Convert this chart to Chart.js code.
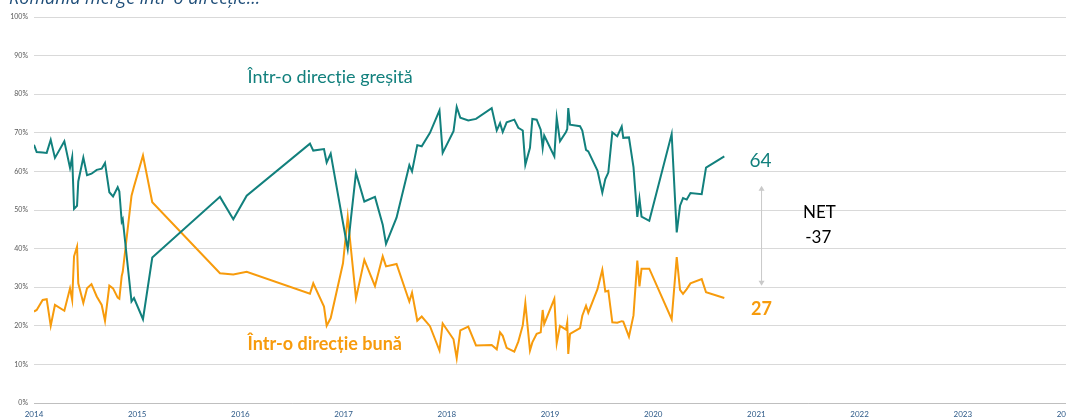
<!DOCTYPE html>
<html>
<head>
<meta charset="utf-8">
<script src="https://cdn.jsdelivr.net/npm/chart.js@4/dist/chart.umd.min.js"></script>
<style>
  html, body { margin: 0; padding: 0; background: #fff; overflow: hidden; }
  #wrap { width: 1100px; height: 419px; position: relative; }
</style>
</head>
<body>
<div id="wrap"><canvas id="myChart" width="1100" height="419"></canvas></div>
<script>
// survey dates as decimal years
const dates = [
  2014.000, 2014.026, 2014.084, 2014.123, 2014.162, 2014.203, 2014.294, 2014.349, 2014.370, 2014.388,
  2014.417, 2014.429, 2014.478, 2014.514, 2014.557, 2014.608, 2014.656, 2014.688, 2014.730, 2014.766,
  2014.811, 2014.827, 2014.850, 2014.860, 2014.945, 2014.969, 2015.056, 2015.146, 2015.802, 2015.931,
  2016.061, 2016.674, 2016.706, 2016.810, 2016.836, 2016.875, 2016.994, 2017.040, 2017.072, 2017.120,
  2017.201, 2017.304, 2017.379, 2017.411, 2017.513, 2017.637, 2017.663, 2017.714, 2017.757, 2017.837,
  2017.929, 2017.960, 2018.065, 2018.096, 2018.131, 2018.208, 2018.283, 2018.435, 2018.484, 2018.516,
  2018.542, 2018.580, 2018.654, 2018.693, 2018.736, 2018.761, 2018.806, 2018.829, 2018.871, 2018.910,
  2018.929, 2018.944, 2019.042, 2019.065, 2019.097, 2019.155, 2019.167, 2019.177, 2019.194, 2019.291,
  2019.313, 2019.349, 2019.371, 2019.460, 2019.507, 2019.536, 2019.565, 2019.604, 2019.652, 2019.695,
  2019.710, 2019.765, 2019.809, 2019.846, 2019.867, 2019.887, 2019.962, 2020.179, 2020.228, 2020.260,
  2020.289, 2020.325, 2020.361, 2020.470, 2020.512, 2020.689
];

// "Într-o direcție greșită" (%)
const gresita = [
  66.9, 65.0, 64.9, 64.8, 68.2, 63.5, 67.8, 60.9, 63.7, 50.3,
  51.1, 57.4, 63.6, 59.0, 59.4, 60.4, 60.7, 62.2, 54.6, 53.5,
  55.9, 54.8, 47.0, 47.6, 26.3, 27.2, 21.7, 37.7, 53.4, 47.6,
  53.7, 67.2, 65.4, 65.8, 62.3, 64.6, 46.7, 39.9, 48.0, 59.6,
  52.2, 53.4, 46.2, 41.2, 48.0, 61.6, 60.0, 66.8, 66.5, 70.0,
  75.8, 64.8, 70.4, 76.7, 73.9, 73.2, 73.6, 76.4, 70.6, 72.5,
  70.2, 72.7, 73.4, 71.3, 70.6, 61.7, 66.1, 73.6, 73.4, 70.8,
  66.1, 69.3, 63.9, 73.9, 67.8, 70.2, 71.0, 76.4, 72.1, 71.7,
  70.6, 65.6, 65.2, 60.2, 54.5, 58.0, 59.7, 70.1, 69.1, 71.6,
  68.7, 68.8, 61.1, 48.2, 52.9, 48.3, 47.2, 69.7, 44.2, 51.1,
  53.1, 52.7, 54.4, 54.1, 61.0, 63.9
];

// "Într-o direcție bună" (%)
const buna = [
  23.7, 24.1, 26.7, 26.9, 20.0, 25.4, 23.9, 29.7, 26.7, 38.0,
  40.5, 31.0, 25.9, 29.7, 30.8, 27.6, 25.4, 21.3, 30.4, 29.7,
  27.3, 27.0, 32.9, 34.0, 53.7, 56.1, 64.1, 52.0, 33.6, 33.3,
  34.0, 28.3, 31.0, 25.0, 20.0, 22.0, 36.2, 48.2, 39.7, 27.1,
  37.1, 30.3, 38.0, 35.4, 36.0, 26.3, 28.6, 21.3, 22.4, 19.9,
  13.6, 20.6, 16.5, 11.6, 18.8, 19.8, 14.9, 15.0, 13.9, 18.3,
  17.4, 14.3, 13.3, 15.9, 20.1, 25.9, 13.6, 15.7, 17.9, 18.3,
  24.1, 20.5, 27.0, 15.5, 20.0, 19.0, 20.8, 12.7, 17.9, 19.4,
  22.6, 25.2, 23.4, 29.5, 34.5, 28.9, 29.1, 20.9, 20.8, 21.2,
  21.1, 17.2, 22.7, 36.9, 30.2, 34.8, 34.8, 21.7, 37.8, 29.3,
  28.3, 29.5, 31.0, 32.1, 28.7, 27.2
];

const yearTicks = [2014, 2015, 2016, 2017, 2018, 2019, 2020, 2021, 2022, 2023, 2024];
const lastGresita = 64;
const lastBuna = 27;
const net = lastBuna - lastGresita;

const teal = '#12807D';
const orange = '#F79B0C';

function toPoints(vals) {
  return dates.map((d, i) => ({ x: d, y: vals[i] }));
}

const notes = {
  id: 'notes',
  afterDatasetsDraw(chart) {
    const c = chart.ctx;
    const xs = chart.scales.x, ys = chart.scales.y;
    c.save();
    // cut title at the top
    c.font = 'italic 18px "Open Sans"';
    c.fillStyle = '#1F4E79';
    c.textAlign = 'left';
    c.textBaseline = 'alphabetic';
    c.fillText('România merge într-o direcție...', 9, 4);

    c.textBaseline = 'middle';
    c.font = '18px Lato';
    c.fillStyle = teal;
    c.fillText('Într-o direcție greșită', xs.getPixelForValue(2016.07), ys.getPixelForValue(84.3));
    c.font = 'bold 18px Lato';
    c.fillStyle = orange;
    c.fillText('Într-o direcție bună', xs.getPixelForValue(2016.07), ys.getPixelForValue(15.3));

    c.textAlign = 'center';
    c.font = '19px Lato';
    c.fillStyle = teal;
    c.fillText(String(lastGresita), xs.getPixelForValue(2021.04), ys.getPixelForValue(62.8));
    c.font = 'bold 18px Lato';
    c.fillStyle = orange;
    c.fillText(String(lastBuna), xs.getPixelForValue(2021.05), ys.getPixelForValue(24.4));

    c.font = '17px Lato';
    c.fillStyle = '#000';
    c.fillText('NET', xs.getPixelForValue(2021.61), ys.getPixelForValue(49.3));
    c.fillText(String(net), xs.getPixelForValue(2021.60), ys.getPixelForValue(42.8));

    // double arrow
    const ax = xs.getPixelForValue(2021.05);
    const top = ys.getPixelForValue(56.3), bot = ys.getPixelForValue(30.4);
    c.strokeStyle = '#C9C9C9';
    c.fillStyle = '#C9C9C9';
    c.lineWidth = 1;
    c.beginPath();
    c.moveTo(ax, top + 3);
    c.lineTo(ax, bot - 3);
    c.stroke();
    c.beginPath();
    c.moveTo(ax, top); c.lineTo(ax - 3, top + 5); c.lineTo(ax + 3, top + 5); c.closePath();
    c.fill();
    c.beginPath();
    c.moveTo(ax, bot); c.lineTo(ax - 3, bot - 5); c.lineTo(ax + 3, bot - 5); c.closePath();
    c.fill();
    c.restore();
  }
};

const ctx = document.getElementById('myChart').getContext('2d');
const myChart = new Chart(ctx, {
  type: 'line',
  data: {
    datasets: [
      {
        label: 'Într-o direcție greșită',
        data: toPoints(gresita),
        borderColor: teal,
        borderWidth: 2,
        pointRadius: 0,
        tension: 0,
      },
      {
        label: 'Într-o direcție bună',
        data: toPoints(buna),
        borderColor: orange,
        borderWidth: 2,
        pointRadius: 0,
        tension: 0,
      },
    ],
  },
  options: {
    responsive: false,
    animation: false,
    maintainAspectRatio: false,
    layout: { padding: { top: 17, right: 34, left: 0, bottom: 0 } },
    plugins: {
      legend: { display: false },
      tooltip: { enabled: false },
    },
    scales: {
      x: {
        type: 'linear',
        min: 2014,
        max: 2024,
        afterBuildTicks: (axis) => { axis.ticks = yearTicks.map(v => ({ value: v })); },
        afterFit: (axis) => { axis.height = 16; },
        ticks: {
          padding: 7,
          maxRotation: 0,
          autoSkip: false,
          color: '#2E5A88',
          font: { family: 'Lato', size: 8 },
          callback: (v) => String(v),
        },
        grid: { display: false, drawTicks: false },
        border: { display: true, color: '#BFBFBF', width: 1 },
      },
      y: {
        min: 0,
        max: 100,
        afterFit: (axis) => { axis.width = 34; },
        ticks: {
          stepSize: 10,
          padding: 6,
          color: '#595959',
          font: { family: 'Lato', size: 7 },
          callback: (v) => v + '%',
        },
        grid: { color: '#D9D9D9', lineWidth: 1, drawTicks: false },
        border: { display: false },
      },
    },
  },
  plugins: [notes],
});
</script>
</body>
</html>
